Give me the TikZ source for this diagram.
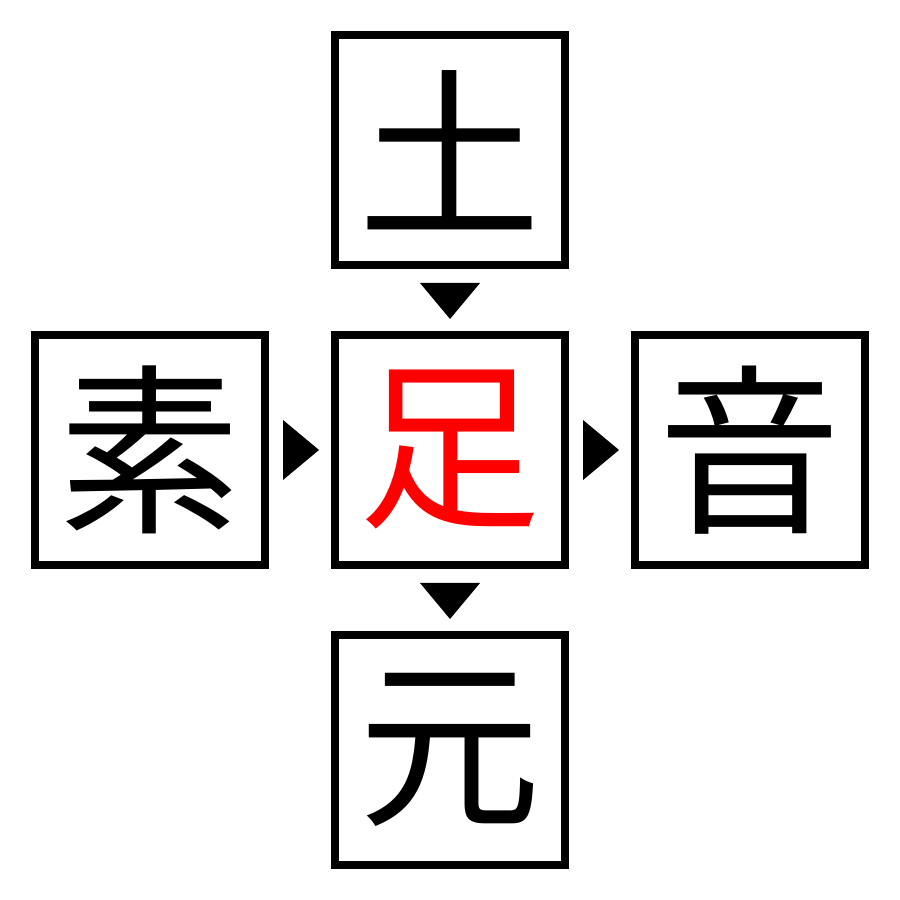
\documentclass[tikz,border=0pt]{standalone}
\usepackage{fontspec}
\newfontfamily\cjk{Noto Sans CJK JP}
\usetikzlibrary{calc}
\begin{document}
\begin{tikzpicture}[
  box/.style={draw=black,line width=0.08cm,minimum size=2.3cm,inner sep=0pt,font=\cjk\fontsize{52}{52}\selectfont},
  tri/.style={fill=black}]
\useasboundingbox (0,0) rectangle (9,9);
\node[box] (t) at (4.5,7.5) {土};
\node[box,text=red] (c) at (4.5,4.5) {足};
\node[box] (l) at (1.5,4.5) {素};
\node[box] (r) at (7.5,4.5) {音};
\node[box] (b) at (4.5,1.5) {元};
\fill[tri] ($(t.south)+(-0.3,-0.14)$) -- ++(0.6,0) -- ($(c.north)+(0,0.12)$) -- cycle;
\fill[tri] ($(c.south)+(-0.3,-0.14)$) -- ++(0.6,0) -- ($(b.north)+(0,0.12)$) -- cycle;
\fill[tri] ($(l.east)+(0.14,0.3)$) -- ++(0,-0.6) -- ($(c.west)+(-0.12,0)$) -- cycle;
\fill[tri] ($(c.east)+(0.14,0.3)$) -- ++(0,-0.6) -- ($(r.west)+(-0.12,0)$) -- cycle;
\end{tikzpicture}
\end{document}
